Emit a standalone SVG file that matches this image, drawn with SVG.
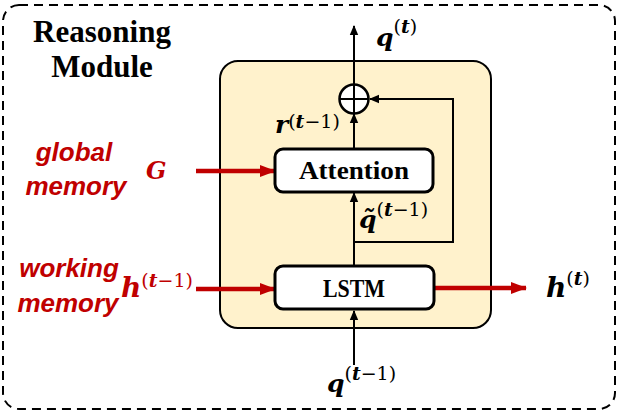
<svg xmlns="http://www.w3.org/2000/svg" width="631" height="417" viewBox="0 0 631 417">
<defs>
<marker id="ab" markerWidth="10" markerHeight="10" refX="9" refY="5" orient="auto" markerUnits="userSpaceOnUse"><path d="M0,0.8 L10,5 L0,9.2 Z" fill="#000"/></marker>
<marker id="ar" markerWidth="16" markerHeight="14" refX="15" refY="7" orient="auto" markerUnits="userSpaceOnUse"><path d="M0,1 L16,7 L0,13 Z" fill="#C00000"/></marker>
</defs>
<style>
.title{font-family:"Liberation Serif",serif;font-weight:bold;font-size:31px;fill:#000}
.box{fill:#fff;stroke:#000;stroke-width:3}
.lbl{font-family:"Liberation Serif",serif;font-weight:bold;fill:#000}
.red{font-family:"Liberation Sans",sans-serif;font-weight:bold;font-style:italic;font-size:26px;fill:#C00000}
.m{font-family:"DejaVu Serif",serif;font-weight:bold;font-style:italic;fill:#000}
.mr{font-family:"DejaVu Serif",serif;font-weight:bold;font-style:italic;fill:#C00000}
.sup{font-family:"DejaVu Serif",serif;font-size:19px}
.up{font-style:normal;font-weight:normal}
.bl{fill:none;stroke:#000;stroke-width:2}
.rl{fill:none;stroke:#C00000;stroke-width:4.5}
</style>
<g id="module-frame">
<rect x="3" y="5" width="612" height="404" rx="16" fill="#fff" stroke="#000" stroke-width="2" stroke-dasharray="9,6"/>
<text class="title" x="102" y="42" text-anchor="middle">Reasoning</text>
<text class="title" x="102" y="77" text-anchor="middle">Module</text>
</g>
<g id="reasoning-block">
<rect x="220" y="61" width="271" height="267" rx="18" fill="#FFF2CC" stroke="#000" stroke-width="2"/>
</g>
<g id="connectors">
<path class="bl" d="M354,84 V26" marker-end="url(#ab)"/>
<path class="bl" d="M354,149 V114" marker-end="url(#ab)"/>
<path class="bl" d="M354,266 V193" marker-end="url(#ab)"/>
<path class="bl" d="M354,365 V311" marker-end="url(#ab)"/>
<path class="bl" d="M354,242 H453 V99 H370" marker-end="url(#ab)"/>
<path class="rl" d="M196,171 H275" marker-end="url(#ar)"/>
<path class="rl" d="M196,289 H275" marker-end="url(#ar)"/>
<path class="rl" d="M434,288 H526" marker-end="url(#ar)"/>
</g>
<g id="sum">
<circle cx="354" cy="99" r="14.5" fill="#fff" stroke="#000" stroke-width="2.5"/>
<path d="M339.5,99 H368.5 M354,84.5 V113.5" stroke="#000" stroke-width="2"/>
</g>
<g id="attention">
<rect class="box" x="275" y="149" width="158" height="43" rx="8"/>
<text class="lbl" x="354" y="179" font-size="25" text-anchor="middle" textLength="110" lengthAdjust="spacingAndGlyphs">Attention</text>
</g>
<g id="lstm">
<rect class="box" x="275" y="266" width="159" height="43" rx="8"/>
<text class="lbl" x="354" y="297" font-size="26" text-anchor="middle" textLength="62" lengthAdjust="spacingAndGlyphs">LSTM</text>
</g>
<g id="global-memory">
<text class="red" x="74" y="161" text-anchor="middle">global</text>
<text class="red" x="76" y="195" text-anchor="middle">memory</text>
<text class="mr" x="146" y="179" font-size="24">G</text>
</g>
<g id="working-memory">
<text class="red" x="69" y="277" text-anchor="middle">working</text>
<text class="red" x="68" y="312" text-anchor="middle">memory</text>
<text class="mr" x="121" y="297" font-size="28">h<tspan class="sup" dy="-10"><tspan class="up">(</tspan>t<tspan class="up">−1)</tspan></tspan></text>
</g>
<g id="labels">
<text class="m" x="376" y="46" font-size="25">q<tspan class="sup" dy="-13"><tspan class="up">(</tspan>t<tspan class="up">)</tspan></tspan></text>
<text class="m" x="275" y="133" font-size="25">r<tspan class="sup" dy="-5"><tspan class="up">(</tspan>t<tspan class="up">−1)</tspan></tspan></text>
<text class="m" x="359" y="228" font-size="25">q̃<tspan class="sup" dy="-12"><tspan class="up">(</tspan>t<tspan class="up">−1)</tspan></tspan></text>
<text class="m" x="327" y="392" font-size="25">q<tspan class="sup" dy="-12"><tspan class="up">(</tspan>t<tspan class="up">−1)</tspan></tspan></text>
<text class="m" x="546" y="297" font-size="28">h<tspan class="sup" dy="-12"><tspan class="up">(</tspan>t<tspan class="up">)</tspan></tspan></text>
</g>
</svg>
